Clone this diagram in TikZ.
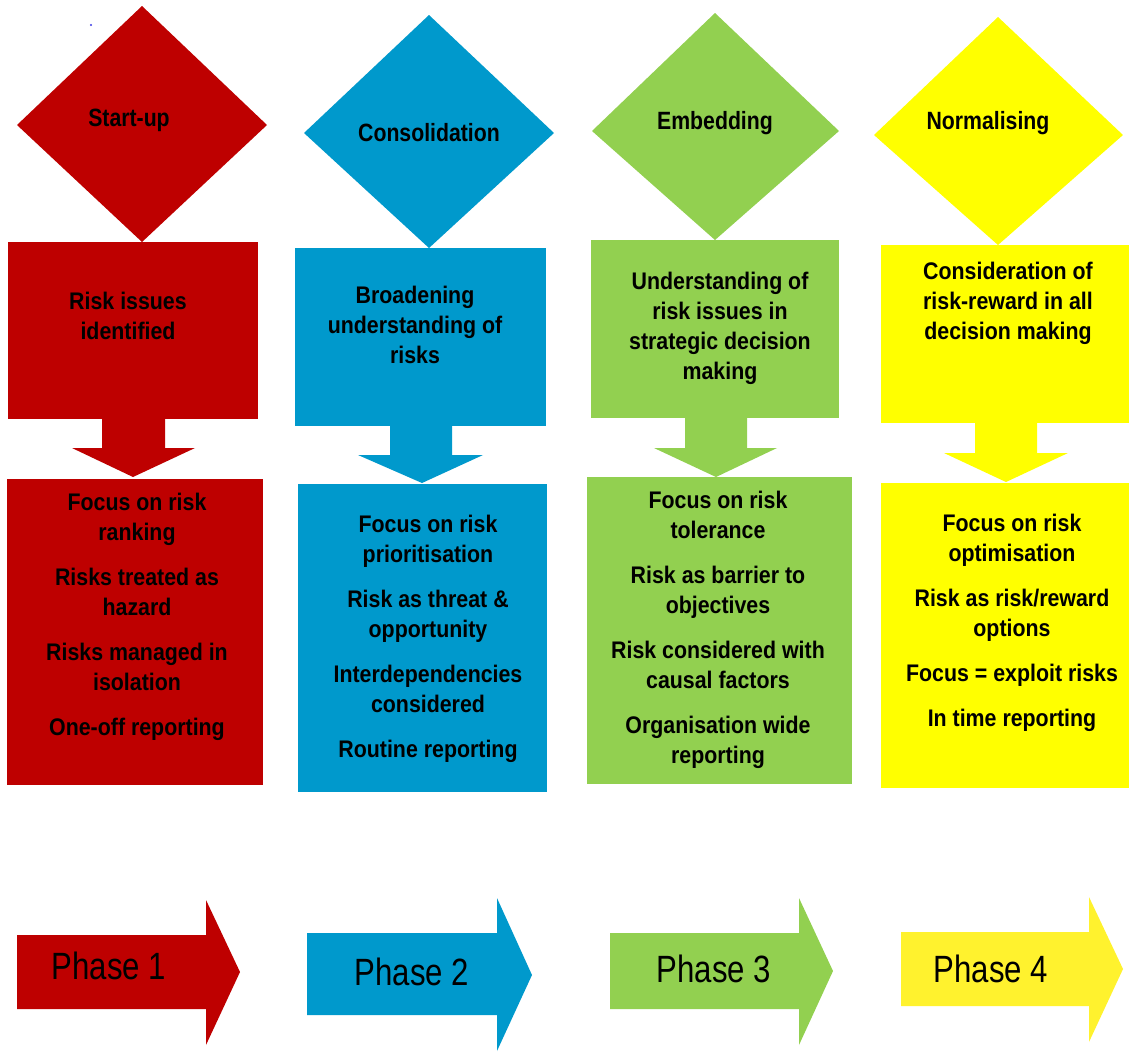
\documentclass[tikz,border=0pt]{standalone}
\usepackage{fontspec}
\setmainfont{Liberation Sans}
\newfontfamily\narrowfont[FakeStretch=0.89]{Liberation Sans}
\newfontfamily\diafont[FakeStretch=0.85]{Liberation Sans}
\newfontfamily\phasefont[FakeStretch=0.82]{Liberation Sans}
\definecolor{cred}{RGB}{190,0,0}
\definecolor{cblue}{RGB}{0,153,204}
\definecolor{cgreen}{RGB}{146,208,80}
\definecolor{cyellow}{RGB}{255,255,0}
\definecolor{cyellowb}{RGB}{255,242,46}
\definecolor{cdot}{RGB}{60,60,230}
\begin{document}
\begin{tikzpicture}[x=0.5pt,y=-0.5pt,
  lbl/.style={font=\narrowfont\bfseries\fontsize{12}{15}\selectfont, align=center, inner sep=0pt, text=black},
  dlbl/.style={font=\diafont\bfseries\fontsize{12.5}{15}\selectfont, inner sep=0pt, text=black},
  phl/.style={font=\phasefont\fontsize{19}{22}\selectfont, inner sep=0pt, text=black}]
\useasboundingbox (0,0) rectangle (1131,1057);
\fill[white] (0,0) rectangle (1131,1057);

% stray dot
\fill[cdot] (91,25) circle (1.2);

% ---------- Column 1 (red) ----------
\fill[cred] (142,6) -- (267,125) -- (142,242) -- (17,125) -- cycle;
\fill[cred] (8,242) rectangle (258,419);
\fill[cred] (102,418) -- (165,418) -- (165,448) -- (195,448) -- (133,477) -- (72,448) -- (102,448) -- cycle;
\fill[cred] (7,479) rectangle (263,785);
\fill[cred] (17,935) -- (206,935) -- (206,900) -- (240,972) -- (206,1045) -- (206,1009) -- (17,1009) -- cycle;
\node[dlbl] (d1) at (129,120) {Start-up};
\node[lbl] (t1) at (128,316) {Risk issues\\identified};
\node[lbl] (b1) at (137,617) {Focus on risk\\ranking\\[7.5pt]Risks treated as\\hazard\\[7.5pt]Risks managed in\\isolation\\[7.5pt]One-off reporting};
\node[phl] (p1) at (109,966) {Phase 1};

% ---------- Column 2 (blue) ----------
\fill[cblue] (429,15) -- (554,133) -- (429,248) -- (304,133) -- cycle;
\fill[cblue] (295,248) rectangle (546,426);
\fill[cblue] (390,425) -- (452,425) -- (452,455) -- (483,455) -- (422,483) -- (358,455) -- (390,455) -- cycle;
\fill[cblue] (298,484) rectangle (547,792);
\fill[cblue] (307,933) -- (497,933) -- (497,898) -- (532,975) -- (497,1051) -- (497,1015) -- (307,1015) -- cycle;
\node[dlbl] (d2) at (429,133) {Consolidation};
\node[lbl] (t2) at (415,325) {Broadening\\understanding of\\risks};
\node[lbl] (b2) at (428,639) {Focus on risk\\prioritisation\\[7.5pt]Risk as threat \&\\opportunity\\[7.5pt]Interdependencies\\considered\\[7.5pt]Routine reporting};
\node[phl] (p2) at (412,972) {Phase 2};

% ---------- Column 3 (green) ----------
\fill[cgreen] (715,13) -- (839,131) -- (715,240) -- (592,131) -- cycle;
\fill[cgreen] (591,240) rectangle (839,418);
\fill[cgreen] (685,417) -- (747,417) -- (747,448) -- (777,448) -- (716,477) -- (654,448) -- (685,448) -- cycle;
\fill[cgreen] (587,477) rectangle (852,784);
\fill[cgreen] (610,933) -- (799,933) -- (799,898) -- (833,971) -- (799,1045) -- (799,1009) -- (610,1009) -- cycle;
\node[dlbl] (d3) at (715,123) {Embedding};
\node[lbl] (t3) at (720,328) {Understanding of\\risk issues in\\strategic decision\\making};
\node[lbl] (b3) at (718,630) {Focus on risk\\tolerance\\[7.5pt]Risk as barrier to\\objectives\\[7.5pt]Risk considered with\\causal factors\\[7.5pt]Organisation wide\\reporting};
\node[phl] (p3) at (714,969) {Phase 3};

% ---------- Column 4 (yellow) ----------
\fill[cyellow] (998,17) -- (1123,135) -- (998,245) -- (874,135) -- cycle;
\fill[cyellow] (881,245) rectangle (1129,423);
\fill[cyellow] (975,422) -- (1037,422) -- (1037,453) -- (1068,453) -- (1006,482) -- (944,453) -- (975,453) -- cycle;
\fill[cyellow] (881,483) rectangle (1129,788);
\fill[cyellowb] (901,932) -- (1089,932) -- (1089,897) -- (1123,969) -- (1089,1042) -- (1089,1006) -- (901,1006) -- cycle;
\node[dlbl] (d4) at (988,123) {Normalising};
\node[lbl] (t4) at (1008,303) {Consideration of\\risk-reward in all\\decision making};
\node[lbl] (b4) at (1012,623) {Focus on risk\\optimisation\\[7.5pt]Risk as risk/reward\\options\\[7.5pt]Focus = exploit risks\\[7.5pt]In time reporting};
\node[phl] (p4) at (991,969) {Phase 4};
\end{tikzpicture}
\end{document}
